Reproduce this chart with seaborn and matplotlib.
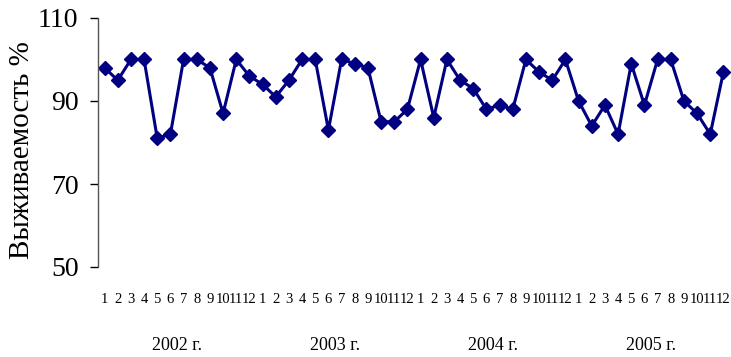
import matplotlib
matplotlib.use("Agg")
import matplotlib.pyplot as plt
import seaborn as sns
import pandas as pd

years = ["2002 г.", "2003 г.", "2004 г.", "2005 г."]
months = [str(m) for m in range(1, 13)]

survival_2002 = [98, 95, 100, 100, 81, 82, 100, 100, 98, 87, 100, 96]
survival_2003 = [94, 91, 95, 100, 100, 83, 100, 99, 98, 85, 85, 88]
survival_2004 = [100, 86, 100, 95, 93, 88, 89, 88, 100, 97, 95, 100]
survival_2005 = [90, 84, 89, 82, 99, 89, 100, 100, 90, 87, 82, 97]

series = [survival_2002, survival_2003, survival_2004, survival_2005]
values = [v for s in series for v in s]
df = pd.DataFrame({"idx": range(len(values)), "survival": values})

sns.set_theme(style="white", rc={"text.color": "black",
                                 "xtick.color": "black",
                                 "ytick.color": "black",
                                 "axes.labelcolor": "black"})
plt.rcParams["font.family"] = ["Liberation Serif", "DejaVu Serif"]

fig = plt.figure(figsize=(7.31, 3.57), dpi=100)
ax = fig.add_axes([98 / 731, 1 - 267 / 357, 632 / 731, 249 / 357])

navy = "#000080"
sns.lineplot(data=df, x="idx", y="survival", ax=ax, color=navy, linewidth=2.2,
             marker="D", markersize=7.2, markeredgecolor=navy,
             markerfacecolor=navy, markeredgewidth=1)

ax.set_xlim(-0.5, len(values) - 0.5)
ax.set_ylim(50, 110)
ax.set_yticks([50, 70, 90, 110])
ax.tick_params(axis="y", direction="out", length=6, width=1, color="black",
               labelcolor="black", labelsize=20, pad=8, left=True)
ax.set_xticks(range(len(values)))
ax.set_xticklabels(months * len(years))
ax.tick_params(axis="x", length=0, labelsize=10.5, pad=19, labelcolor="black")

for side in ["top", "right", "bottom"]:
    ax.spines[side].set_visible(False)
ax.spines["left"].set_color("#555555")
ax.spines["left"].set_linewidth(1)
ax.grid(False)
ax.set_xlabel("")
ax.set_ylabel("")

trans = ax.get_xaxis_transform()
for i, y in enumerate(years):
    center = i * 12 + 5.5
    ax.text(center, -0.315, y, transform=trans, ha="center", va="center",
            fontsize=13, color="black")

fig.text(22 / 731, 1 - 150 / 357, "Выживаемость %", rotation=90,
         ha="center", va="center", fontsize=21, color="black")

fig.savefig("out.png", dpi=100)
